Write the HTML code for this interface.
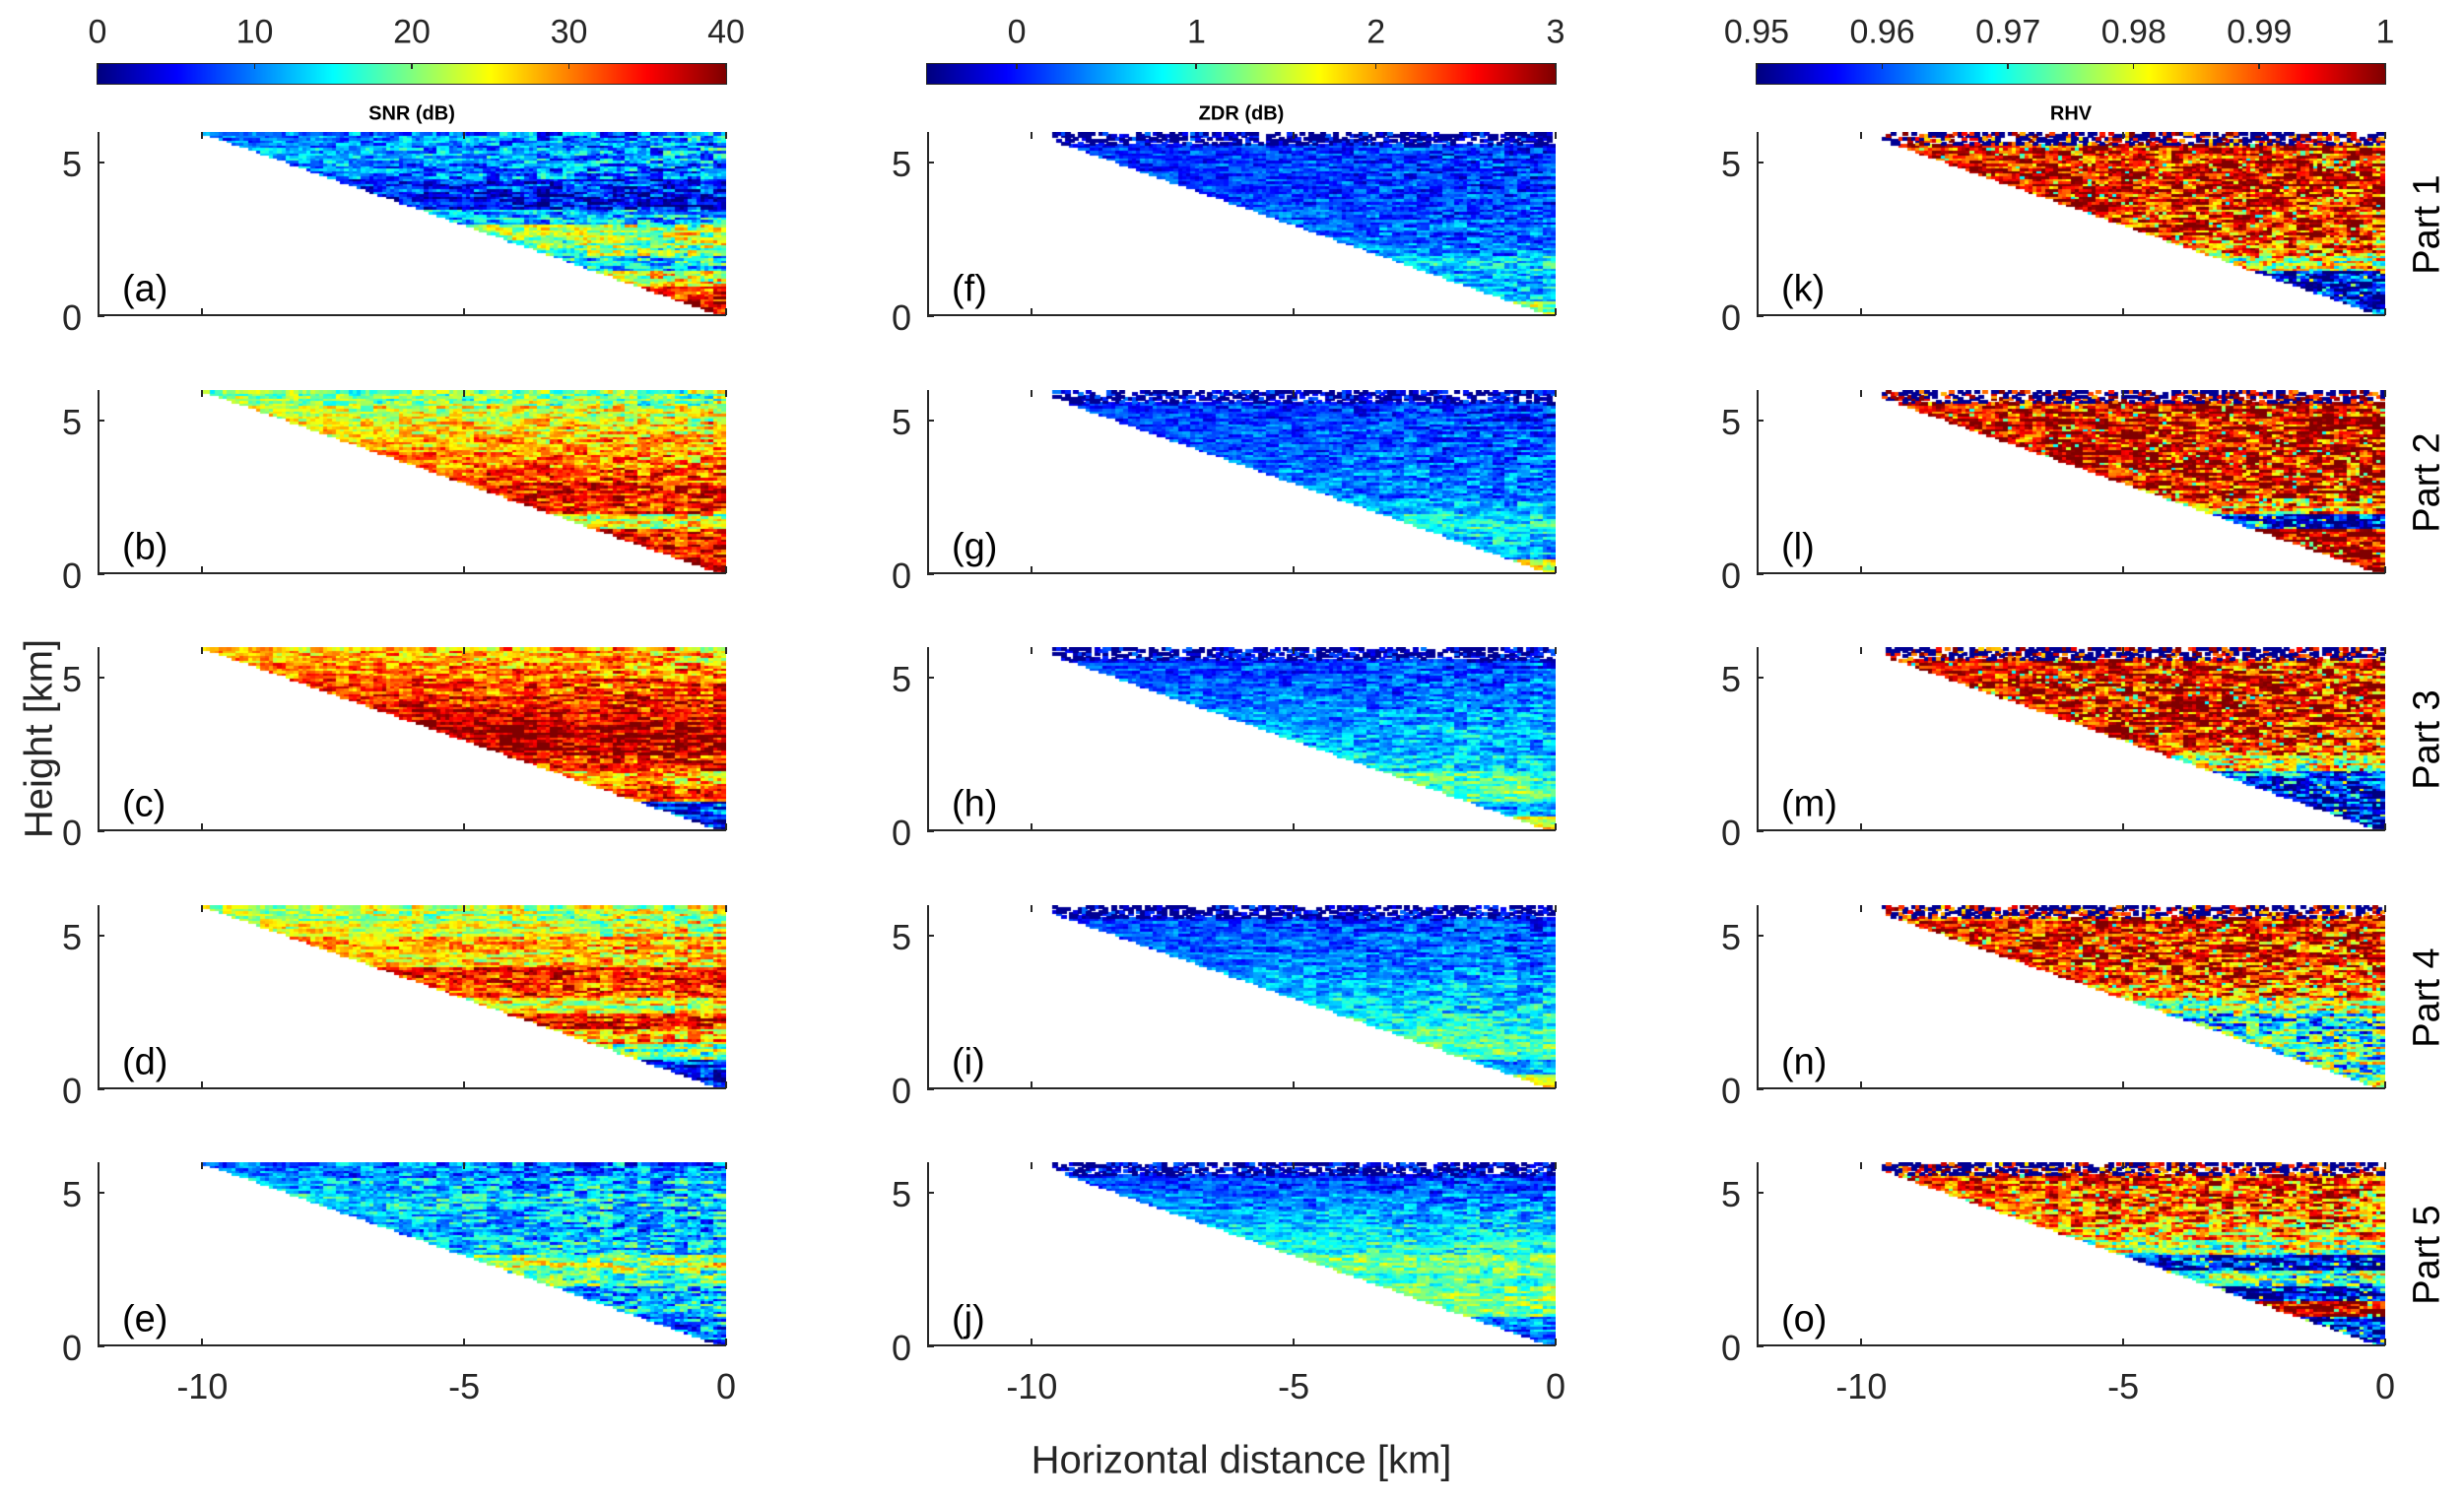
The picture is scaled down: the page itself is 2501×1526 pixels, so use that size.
<!DOCTYPE html>
<html><head><meta charset="utf-8">
<style>
html,body{margin:0;padding:0;background:#fff;}
#wrap{position:relative;width:2501px;height:1526px;overflow:hidden;font-family:"Liberation Sans",Arial,sans-serif;color:#262626;}
.lbl{position:absolute;white-space:nowrap;}
canvas{position:absolute;}
</style></head>
<body>
<div id="wrap"></div>
<script>
// ---- data (band values per 0.5 km height, bottom->top, normalized colormap 0..1) ----
const panelLetters = ['a','b','c','d','e','f','g','h','i','j','k','l','m','n','o'];
const snrBands = [
 [0.95,0.85,0.6,0.35,0.5,0.55,0.3,0.1,0.15,0.25,0.28,0.25],
 [0.95,0.9,0.85,0.6,0.85,0.85,0.8,0.75,0.7,0.65,0.6,0.5],
 [0.1,0.15,0.8,0.7,0.85,0.95,0.97,0.9,0.85,0.8,0.75,0.7],
 [0.1,0.15,0.5,0.7,0.85,0.6,0.8,0.85,0.65,0.7,0.6,0.55],
 [0.2,0.25,0.35,0.3,0.45,0.55,0.35,0.3,0.3,0.35,0.3,0.25]];
const zdrBands = [
 [0.5,0.3,0.3,0.35,0.25,0.22,0.2,0.2,0.18,0.18,0.18,0.15],
 [0.6,0.3,0.35,0.4,0.3,0.25,0.25,0.22,0.2,0.2,0.18,0.15],
 [0.6,0.3,0.45,0.45,0.35,0.3,0.3,0.28,0.25,0.22,0.2,0.15],
 [0.6,0.3,0.45,0.45,0.4,0.35,0.3,0.28,0.25,0.22,0.2,0.15],
 [0.2,0.25,0.5,0.5,0.45,0.5,0.4,0.35,0.3,0.25,0.2,0.15]];
const rhvBands = [
 [0.05,0.05,0.05,0.6,0.75,0.85,0.85,0.9,0.9,0.9,0.88,0.85],
 [0.98,0.98,0.98,0.15,0.7,0.88,0.9,0.92,0.92,0.92,0.9,0.9],
 [0.05,0.05,0.05,0.2,0.6,0.8,0.88,0.9,0.9,0.9,0.88,0.88],
 [0.5,0.45,0.45,0.4,0.35,0.55,0.75,0.85,0.85,0.88,0.88,0.85],
 [0.05,0.05,0.98,0.08,0.45,0.1,0.55,0.7,0.75,0.8,0.82,0.85]];
const colTitles = ['SNR (dB)','ZDR (dB)','RHV'];
const cbTicks = [['0','10','20','30','40'],['0','1','2','3'],['0.95','0.96','0.97','0.98','0.99','1']];
const cbTickVals = [[0,10,20,30,40],[0,1,2,3],[0.95,0.96,0.97,0.98,0.99,1]];
const cbRange = [[0,40],[-0.5,3],[0.95,1]];
const partLabels = ['Part 1','Part 2','Part 3','Part 4','Part 5'];
const xTicks = [-10,-5,0];
const yTicks = [0,5];

// ---- layout ----
const colL=[99,941,1783], PW=638, rowT=[134,396,657,919,1180], PH=187;
const X0=-12,X1=0,Y0=0,Y1=6;
const W=document.getElementById('wrap');
function sx(c,v){return colL[c]+(v-X0)/(X1-X0)*PW;}
function sy(r,v){return rowT[r]+PH-(v-Y0)/(Y1-Y0)*PH;}
function jet(t){t=Math.max(0,Math.min(1,t));
 const r=Math.max(0,Math.min(1,1.5-Math.abs(4*t-3)));
 const g=Math.max(0,Math.min(1,1.5-Math.abs(4*t-2)));
 const b=Math.max(0,Math.min(1,1.5-Math.abs(4*t-1)));
 return [Math.round(r*255),Math.round(g*255),Math.round(b*255)];}
function hash(a,b,c){let h=(a*374761393+b*668265263+c*2147483647)|0;h=(h^(h>>>13))*1274126177|0;h=h^(h>>>16);return ((h>>>0)%10000)/10000;}
function lbl(txt,x,y,size,opts,name){const d=document.createElement('div');d.className='lbl';d.textContent=txt;
 d.style.fontSize=size+'px';d.style.left=x+'px';d.style.top=y+'px';
 d.style.transform=(opts&&opts.tf)||'translate(-50%,-50%)';
 if(opts&&opts.bold)d.style.fontWeight='bold';
 if(opts&&opts.color)d.style.color=opts.color;
 
 
 W.appendChild(d);return d;}

const bandsByCol=[snrBands,zdrBands,rhvBands];
const noiseAmp=[0.15,0.1,0.22];
for(let c=0;c<3;c++){
 const cb=document.createElement('canvas');cb.width=PW;cb.height=20;
 cb.style.left=colL[c]+'px';cb.style.top='65px';cb.style.outline='1.5px solid #262626';
 
 
 const cx=cb.getContext('2d');
 for(let i=0;i<PW;i++){const k=jet(i/(PW-1));cx.fillStyle=`rgb(${k[0]},${k[1]},${k[2]})`;cx.fillRect(i,0,1,20);}
 W.appendChild(cb);
 const [r0,r1]=cbRange[c];
 cbTickVals[c].forEach((v,i)=>{const x=colL[c]+(v-r0)/(r1-r0)*PW;
  lbl(cbTicks[c][i],x,33,34,null,'colorbar-tick-label');
  const t=document.createElement('div');t.style.cssText=`position:absolute;left:${x-1}px;top:65px;width:1.5px;height:5px;background:#262626`;
  
  
  W.appendChild(t);});
 lbl(colTitles[c],colL[c]+PW/2,116,20,{bold:true,color:'#000'},'column-title');
 for(let r=0;r<5;r++){
  const p=c*5+r, bands=bandsByCol[c][r];
  const cv=document.createElement('canvas');cv.width=PW;cv.height=PH;
  cv.style.left=colL[c]+'px';cv.style.top=rowT[r]+'px';
  
  
  const g=cv.getContext('2d');
  const NX=150,NY=72;
  for(let j=0;j<NY;j++){const y=(j+0.5)/NY*6;
   for(let i=0;i<NX;i++){const x=-12+(i+0.5)/NX*12;
    const lim = c===0?-10:-9.6;
    if(x<lim) continue;
    if(y< -0.6*x - 0.02) continue;
    let v;
    if(c>0 && y>5.6){const hh=hash(i,j,p+99);
      if(hh<0.4) continue; if(hh<0.75){v=0.02;} else v=bands[11]+(hash(i,j,p)-0.5)*2*noiseAmp[c];}
    else{
     const fb=y/0.5, b0=Math.min(11,Math.floor(fb));
     v=bands[b0];
     const n=(hash(Math.floor(i/3),j,p)-0.5)*2*noiseAmp[c]+(hash(i,j,p+7)-0.5)*noiseAmp[c];
     v+=n*(0.6+0.6*(x+12)/12);
     if(c===2 && hash(i,j,p+31)<0.06) v=0.35+hash(i,j,p+3)*0.3;
    }
    const k=jet(v);g.fillStyle=`rgb(${k[0]},${k[1]},${k[2]})`;
    const px=sx(c,-12+i/NX*12)-colL[c], py=sy(r,(j+1)/NY*6)-rowT[r];
    g.fillRect(Math.floor(px),Math.floor(py),Math.ceil(PW/NX)+1,Math.ceil(PH/NY)+1);
   }}
  W.appendChild(cv);
  const ax=document.createElement('div');
  ax.style.cssText=`position:absolute;left:${colL[c]}px;top:${rowT[r]}px;width:${PW}px;height:${PH}px;border-left:2px solid #262626;border-bottom:2px solid #262626;box-sizing:border-box`;
  
  
  W.appendChild(ax);
  xTicks.forEach(v=>{const x=sx(c,v);
   const t=document.createElement('div');t.style.cssText=`position:absolute;left:${x-1}px;top:${rowT[r]+PH-8}px;width:1.5px;height:7px;background:#262626`;
   
   
   W.appendChild(t);
   const t2=document.createElement('div');t2.style.cssText=`position:absolute;left:${x-1}px;top:${rowT[r]}px;width:1.5px;height:7px;background:#262626`;
   
   
   W.appendChild(t2);
   if(r===4) lbl(String(v),x,rowT[r]+PH+41,36,null,'x-tick-label');});
  yTicks.forEach(v=>{const y=sy(r,v);
   const t=document.createElement('div');t.style.cssText=`position:absolute;left:${colL[c]}px;top:${y-1}px;width:7px;height:1.5px;background:#262626`;
   
   
   W.appendChild(t);
   lbl(String(v),colL[c]-16,y+2,36,{tf:'translate(-100%,-50%)'},'y-tick-label');});
  lbl('('+panelLetters[p]+')',colL[c]+25,rowT[r]+PH-27,38,{tf:'translate(0,-50%)',color:'#000'},'panel-letter');
 }
}
partLabels.forEach((t,r)=>lbl(t,2464,rowT[r]+PH/2,38,{tf:'translate(-50%,-50%) rotate(-90deg)',color:'#000'},'part-label'));
lbl('Height [km]',40,750,40,{tf:'translate(-50%,-50%) rotate(-90deg)'},'y-axis-title');
lbl('Horizontal distance [km]',1260,1483,40,null,'x-axis-title');
</script>
</body></html>
